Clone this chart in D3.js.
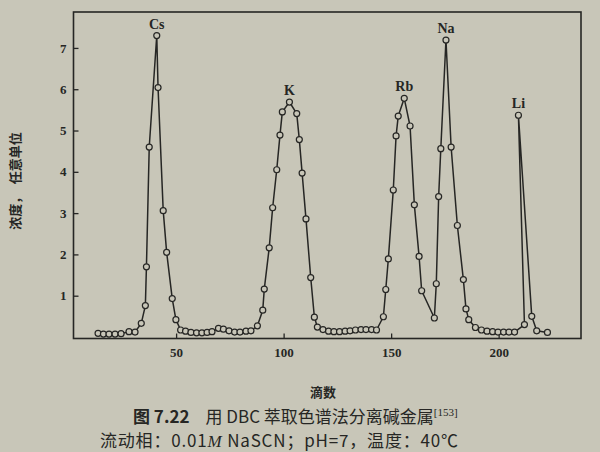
<!DOCTYPE html>
<html><head><meta charset="utf-8">
<script src="https://cdn.jsdelivr.net/npm/d3@7"></script>
<style>html,body{margin:0;padding:0;background:#c8c6b8;}svg{display:block}</style>
</head><body><svg id="c" width="600" height="452"></svg>
<script>
// 滴数 (drop number) and 浓度 (concentration, arbitrary units)
const csDrops = [13.7,16.2,18.8,21.6,24.4,28.1,30.9,33.8,35.7,36.2,37.5,41.0,41.6,44.0,45.6,48.2,49.9,52.1];
const csConc  = [0.09,0.07,0.07,0.07,0.08,0.13,0.12,0.33,0.76,1.70,4.60,7.30,6.04,3.06,2.05,0.93,0.42,0.17];
const kDrops  = [54.4,56.9,59.5,62.0,64.4,66.7,69.7,72.0,74.6,77.2,79.7,82.5,84.8,87.8,90.3,91.0,93.3,94.9,96.8,98.3,99.4,102.7,106.1,107.3,108.6,110.4,112.6,114.3,115.7];
const kConc   = [0.14,0.11,0.10,0.10,0.11,0.13,0.21,0.19,0.15,0.12,0.12,0.14,0.15,0.27,0.65,1.16,2.16,3.13,4.05,4.89,5.45,5.69,5.41,4.78,3.97,2.86,1.44,0.48,0.24];
const rbNaDrops = [118.3,120.9,123.4,126.0,128.6,130.9,133.4,136.0,138.3,140.9,143.2,146.4,147.5,148.7,151.0,152.3,153.3,156.1,158.8,160.8,163.0,164.2,170.1,171.0,172.1,173.1,175.5,177.9,180.8,183.6,184.8,186.1,189.2];
const rbNaConc  = [0.18,0.14,0.13,0.13,0.14,0.15,0.17,0.18,0.18,0.18,0.17,0.49,1.15,1.89,3.56,4.87,5.35,5.78,5.11,3.20,1.95,1.12,0.46,1.29,3.40,4.56,7.19,4.60,2.70,1.39,0.68,0.42,0.23];
const liDrops = [192.0,194.6,197.2,199.7,202.3,204.8,207.4,212.0,209.2,215.4,217.7,222.7];
const liConc  = [0.17,0.14,0.13,0.12,0.12,0.12,0.12,0.30,5.37,0.50,0.15,0.11];

const peakNames = ["Cs","K","Rb","Na","Li"];
const peakDrops = [41.0,102.7,156.1,175.5,209.2];
const peakConc  = [7.30,5.69,5.78,7.19,5.37];

const xTicks = [50,100,150,200];
const yTicks = [1,2,3,4,5,6,7];

const xLabel = "滴数";
const yLabel = "浓度，　任意单位";
const captionFig = "图 7.22";
const caption1 = "用 DBC 萃取色谱法分离碱金属";
const captionRef = "[153]";
const caption2 = "流动相：0.01";
const caption2b = "M";
const caption2c = " NaSCN；pH=7，温度：40℃";

const ink = "#262624", paper = "#c8c6b8";
const svg = d3.select("#c");
svg.append("rect").attr("width",600).attr("height",452).attr("fill",paper);

const x = d3.scaleLinear().domain([2.28, 238.3]).range([73.5, 581]);
const y = d3.scaleLinear().domain([0, 7.87]).range([337, 12]);

// frame
svg.append("rect")
  .attr("x", x.range()[0]).attr("y", y.range()[1])
  .attr("width", x.range()[1]-x.range()[0]).attr("height", y(0)+1.5-y.range()[1])
  .attr("fill","none").attr("stroke",ink).attr("stroke-width",1.6);

// axes with inner ticks
const gx = svg.append("g").attr("transform",`translate(0,${y(0)+1.5})`)
  .call(d3.axisBottom(x).tickValues(xTicks).tickSize(-5).tickPadding(9).tickFormat(d3.format("d")));
const gy = svg.append("g").attr("transform",`translate(${x.range()[0]},0)`)
  .call(d3.axisLeft(y).tickValues(yTicks).tickSize(-5).tickPadding(7).tickFormat(d3.format("d")));
[gx,gy].forEach(g=>{
  g.select(".domain").remove();
  g.selectAll("line").attr("stroke",ink).attr("stroke-width",1.3);
  g.selectAll("text").attr("fill",ink).attr("font-family","'Liberation Serif', serif")
    .attr("font-weight","bold").attr("font-size",13);
});

// data line
const pts = [];
[[csDrops,csConc],[kDrops,kConc],[rbNaDrops,rbNaConc],[liDrops,liConc]].forEach(([d,c])=>{
  d.forEach((v,i)=>pts.push([v,c[i]]));
});
const line = d3.line().x(d=>x(d[0])).y(d=>y(d[1]));
svg.append("path").datum(pts).attr("d",line).attr("fill","none")
  .attr("stroke",ink).attr("stroke-width",1.5).attr("stroke-linejoin","round");
svg.append("g").selectAll("circle").data(pts).join("circle")
  .attr("cx",d=>x(d[0])).attr("cy",d=>y(d[1])).attr("r",3)
  .attr("fill",paper).attr("stroke",ink).attr("stroke-width",1.2);

// peak labels
svg.append("g").selectAll("text").data(peakNames).join("text")
  .attr("x",(d,i)=>x(peakDrops[i])).attr("y",(d,i)=>y(peakConc[i])-7)
  .attr("text-anchor","middle").attr("font-family","'Liberation Serif', serif")
  .attr("font-weight","bold").attr("font-size",14).attr("fill",ink).text(d=>d);

// axis titles
svg.append("text").attr("transform","translate(14,181) rotate(-90)")
  .attr("text-anchor","middle").attr("dominant-baseline","central")
  .attr("font-family","'Noto Sans CJK SC'").attr("font-weight","bold").attr("font-size",13)
  .attr("fill",ink).text(yLabel);
svg.append("text").attr("x",323).attr("y",397).attr("text-anchor","middle")
  .attr("font-family","'Noto Sans CJK SC'").attr("font-weight","bold").attr("font-size",13)
  .attr("fill",ink).text(xLabel);

// captions
const c1 = svg.append("text").attr("x",133).attr("y",423).attr("fill",ink)
  .attr("font-family","'Noto Sans CJK SC'").attr("font-size",17);
c1.append("tspan").attr("font-weight","bold").text(captionFig);
c1.append("tspan").attr("dx",16).text(caption1);
c1.append("tspan").attr("font-size",11).attr("dy",-7).attr("font-family","'Liberation Serif'").text(captionRef);

const c2 = svg.append("text").attr("x",100).attr("y",447).attr("fill",ink)
  .attr("font-family","'Noto Sans CJK SC'").attr("font-size",17)
  .attr("textLength",358).attr("lengthAdjust","spacing");
c2.append("tspan").text(caption2);
c2.append("tspan").attr("font-style","italic").attr("font-family","'Liberation Serif'").text(caption2b);
c2.append("tspan").text(caption2c);
</script></body></html>
